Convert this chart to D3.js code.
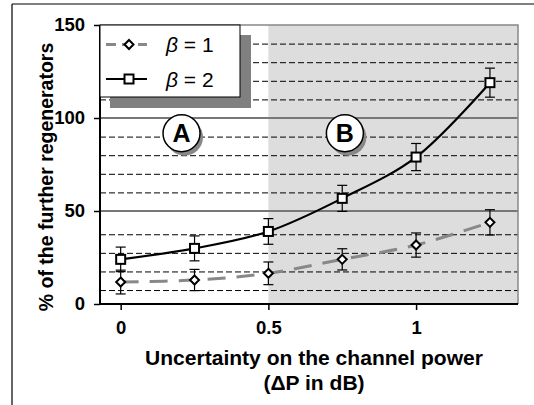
<!DOCTYPE html>
<html>
<head>
<meta charset="utf-8">
<script src="https://cdn.jsdelivr.net/npm/d3@7"></script>
<style>
  body { margin: 0; background: #fff; }
  svg { display: block; font-family: "Liberation Sans", Arial, sans-serif; }
</style>
</head>
<body>
<svg id="chart" width="534" height="405"></svg>
<script>
// values
const deltaP = [0, 0.25, 0.5, 0.75, 1, 1.25];
const beta1 = [11.8, 12.9, 16.5, 24.0, 31.7, 43.9];
const beta1Err = [6.4, 5.7, 6.1, 5.7, 6.5, 6.8];
const beta2 = [24.0, 29.9, 39.0, 56.8, 79.0, 119.0];
const beta2Err = [6.6, 6.7, 6.9, 7.0, 7.3, 7.8];
const seriesNames = ["β = 1", "β = 2"];
const xTicks = [0, 0.5, 1];
const yTicks = [0, 50, 100, 150];
const solidGrid = [50, 100];
const dashedGrid = [7.5, 17.5, 27.5, 37.5, 60, 70, 80, 90, 110, 120, 130, 140];
const zoneLabels = ["A", "B"];
const zoneStart = 0.5;

const svg = d3.select("#chart");

const pLeft = 100, pRight = 518, pTop = 25, pBottom = 304;
const stretch = 1.08; // text in the original is a bit wider than tall

const x = d3.scaleLinear().domain([-0.07, 1.345]).range([pLeft, pRight]);
const y = d3.scaleLinear().domain([0, 150]).range([pBottom, pTop]);

// outer frame (left + top edges visible)
svg.append("line").attr("x1", 12).attr("x2", 12).attr("y1", 4).attr("y2", 405)
  .attr("stroke", "#000").attr("stroke-width", 1.2);
svg.append("line").attr("x1", 12).attr("x2", 534).attr("y1", 4).attr("y2", 4)
  .attr("stroke", "#000").attr("stroke-width", 1.2);

// zone B shading
svg.append("rect")
  .attr("x", x(zoneStart)).attr("y", pTop)
  .attr("width", pRight - x(zoneStart)).attr("height", pBottom - pTop)
  .attr("fill", "#dddddd");

// grid
svg.append("g").selectAll("line").data(dashedGrid).join("line")
  .attr("x1", pLeft).attr("x2", pRight)
  .attr("y1", d => y(d) + 0.5).attr("y2", d => y(d) + 0.5)
  .attr("stroke", "#000").attr("stroke-width", 1)
  .attr("stroke-dasharray", "6,3");

svg.append("g").selectAll("line").data(solidGrid).join("line")
  .attr("x1", pLeft).attr("x2", pRight)
  .attr("y1", d => y(d)).attr("y2", d => y(d))
  .attr("stroke", "#777").attr("stroke-width", 2);

// top and right border of the plot area
svg.append("path")
  .attr("d", `M${pLeft},${y(150)}H${pRight}V${pBottom}`)
  .attr("fill", "none").attr("stroke", "#888").attr("stroke-width", 1.5);

// zone labels
const zones = svg.append("g").selectAll("g").data(zoneLabels).join("g")
  .attr("transform", (d, i) => `translate(${x(i === 0 ? 0.206 : 0.759)},${y(91.8)})`);
zones.append("circle").attr("cx", 3).attr("cy", 4).attr("r", 18.5).attr("fill", "#888");
zones.append("circle").attr("r", 18.5).attr("fill", "#fff").attr("stroke", "#000").attr("stroke-width", 1.5);
zones.append("text").text(d => d)
  .attr("text-anchor", "middle").attr("dy", "0.36em")
  .attr("font-size", 25).attr("font-weight", "bold");

// axes
const yAxis = svg.append("g")
  .attr("transform", `translate(${pLeft},0)`)
  .call(d3.axisLeft(y).tickValues(yTicks).tickSize(6).tickPadding(9));
const xAxis = svg.append("g")
  .attr("transform", `translate(0,${pBottom})`)
  .call(d3.axisBottom(x).tickValues(xTicks).tickSize(6).tickPadding(11)
    .tickFormat(d3.format("")));
[yAxis, xAxis].forEach(a => {
  a.select(".domain").attr("stroke", "#000").attr("stroke-width", 2);
  a.selectAll(".tick line").attr("stroke", "#000").attr("stroke-width", 1.5);
  a.selectAll("text").attr("fill", "#000").attr("font-weight", "bold")
    .attr("font-family", "'Liberation Sans', Arial, sans-serif")
    .attr("font-size", 18.5);
});
xAxis.select(".domain").attr("d", `M${pLeft},0H${pRight}`);
yAxis.select(".domain").attr("d", `M0,${pTop}V${pBottom}`);

// titles
svg.append("text")
  .attr("transform", `translate(53,177) rotate(-90) scale(1,${stretch})`)
  .attr("text-anchor", "middle")
  .attr("font-size", 19.5).attr("font-weight", "bold")
  .text("% of the further regenerators");
const xt = svg.append("text")
  .attr("transform", `translate(314,0) scale(${stretch},1)`)
  .attr("text-anchor", "middle")
  .attr("font-size", 19.5).attr("font-weight", "bold");
xt.append("tspan").attr("x", 0).attr("y", 365).text("Uncertainty on the channel power");
xt.append("tspan").attr("x", 0).attr("y", 390).text("(ΔP in dB)");

// series
const s1 = deltaP.map((d, i) => ({ x: d, v: beta1[i], e: beta1Err[i] }));
const s2 = deltaP.map((d, i) => ({ x: d, v: beta2[i], e: beta2Err[i] }));

const line = d3.line().x(d => x(d.x)).y(d => y(d.v)).curve(d3.curveCatmullRom.alpha(0.5));

svg.append("path").datum(s1).attr("d", line)
  .attr("fill", "none").attr("stroke", "#888").attr("stroke-width", 3)
  .attr("stroke-dasharray", "18,11");
svg.append("path").datum(s2).attr("d", line)
  .attr("fill", "none").attr("stroke", "#000").attr("stroke-width", 2.2);

function errorBars(data) {
  const g = svg.append("g").attr("stroke", "#000").attr("stroke-width", 1.2);
  g.selectAll(".v").data(data).join("line")
    .attr("x1", d => x(d.x)).attr("x2", d => x(d.x))
    .attr("y1", d => y(d.v - d.e)).attr("y2", d => y(d.v + d.e));
  g.selectAll(".t").data(data).join("line")
    .attr("x1", d => x(d.x) - 5).attr("x2", d => x(d.x) + 5)
    .attr("y1", d => y(d.v + d.e)).attr("y2", d => y(d.v + d.e));
  g.selectAll(".b").data(data).join("line")
    .attr("x1", d => x(d.x) - 5).attr("x2", d => x(d.x) + 5)
    .attr("y1", d => y(d.v - d.e)).attr("y2", d => y(d.v - d.e));
}
errorBars(s1);
errorBars(s2);

const diamond = "M0,-4.5L4.5,0L0,4.5L-4.5,0Z";
svg.append("g").selectAll("path").data(s1).join("path")
  .attr("d", diamond)
  .attr("transform", d => `translate(${x(d.x)},${y(d.v)})`)
  .attr("fill", "#fff").attr("stroke", "#000").attr("stroke-width", 2);
svg.append("g").selectAll("rect").data(s2).join("rect")
  .attr("x", d => x(d.x) - 4.5).attr("y", d => y(d.v) - 4.5)
  .attr("width", 9).attr("height", 9)
  .attr("fill", "#fff").attr("stroke", "#000").attr("stroke-width", 2);

// legend
const lg = svg.append("g");
lg.append("rect").attr("x", 110).attr("y", 35).attr("width", 141).attr("height", 73).attr("fill", "#808080");
lg.append("rect").attr("x", 100).attr("y", 25).attr("width", 140).attr("height", 72)
  .attr("fill", "#fff").attr("stroke", "#000").attr("stroke-width", 1);
const items = lg.selectAll(".item").data(seriesNames).join("g")
  .attr("transform", (d, i) => `translate(0,${i === 0 ? 44.5 : 79})`);
items.append("line").attr("x1", 106).attr("x2", 147).attr("y1", 0).attr("y2", 0)
  .attr("stroke", (d, i) => i === 0 ? "#888" : "#000")
  .attr("stroke-width", (d, i) => i === 0 ? 3 : 2.2)
  .attr("stroke-dasharray", (d, i) => i === 0 ? "10,6" : null);
items.each(function (d, i) {
  const g = d3.select(this);
  if (i === 0) {
    g.append("path").attr("d", diamond).attr("transform", "translate(129,0)")
      .attr("fill", "#fff").attr("stroke", "#000").attr("stroke-width", 2);
  } else {
    g.append("rect").attr("x", 124.5).attr("y", -4.5).attr("width", 9).attr("height", 9)
      .attr("fill", "#fff").attr("stroke", "#000").attr("stroke-width", 2);
  }
  const t = g.append("text").attr("x", 166).attr("dy", "0.36em").attr("font-size", 21);
  t.append("tspan").attr("font-style", "italic").text(d.slice(0, 1));
  t.append("tspan").text(d.slice(1));
});
</script>
</body>
</html>
